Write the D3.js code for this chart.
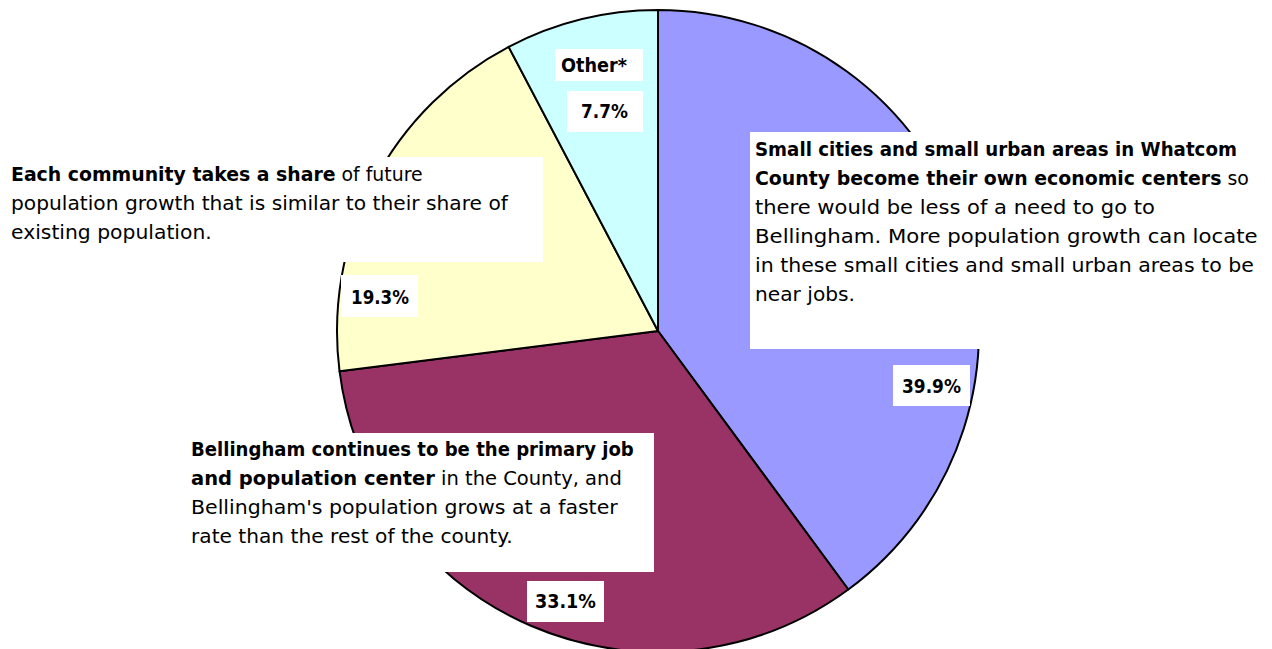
<!DOCTYPE html>
<html>
<head>
<meta charset="utf-8">
<script src="https://cdn.jsdelivr.net/npm/d3@7/dist/d3.min.js"></script>
<style>
  html, body { margin: 0; padding: 0; background: #fff; }
  svg { display: block; }
  text { white-space: pre; }
</style>
</head>
<body>
<svg id="chart" width="1272" height="649"></svg>
<script>
// ---- Data ----
const categories = ["Small cities", "Bellingham", "Each community", "Other*"];
const values = [39.9, 33.1, 19.3, 7.7];
const percentLabels = ["39.9%", "33.1%", "19.3%", "7.7%"];
const sliceColors = ["#9999FF", "#993366", "#FFFFCC", "#CCFFFF"];

const blueText = [
  [["Small cities and small urban areas in Whatcom", true]],
  [["County become their own economic centers", true], [" so", false]],
  [["there would be less of a need to go to", false]],
  [["Bellingham. More population growth can locate", false]],
  [["in these small cities and small urban areas to be", false]],
  [["near jobs.", false]]
];
const maroonText = [
  [["Bellingham continues to be the primary job", true]],
  [["and population center", true], [" in the County, and", false]],
  [["Bellingham's population grows at a faster", false]],
  [["rate than the rest of the county.", false]]
];
const yellowText = [
  [["Each community takes a share", true], [" of future", false]],
  [["population growth that is similar to their share of", false]],
  [["existing population.", false]]
];
const otherText = [[["Other*", true]]];

// ---- Layout (annotation boxes) ----
const FONT = "'DejaVu Sans', sans-serif";
const FS = 19;
const cx = 658, cy = 331, R = 321;

const boxes = [
  { box: [750, 132, 540, 217], x: 755, y: 156, lh: 29, lines: blueText, widths: [482, 494, 400, 503, 499, 100] },
  { box: [185, 433, 469, 139], x: 191, y: 456, lh: 29, lines: maroonText, widths: [443, 431, 427, 322] },
  { box: [0, 157, 543, 105], x: 11, y: 181, lh: 29, lines: yellowText, widths: [412, 497, 201] },
  { box: [555, 49, 88, 32], x: 561, y: 72, lh: 29, lines: otherText, widths: [66] }
];
const pctLayout = [
  { box: [893, 365, 77, 41], x: 902, y: 393, w: 59 },
  { box: [527, 581, 77, 41], x: 535, y: 608, w: 61 },
  { box: [341, 275, 77, 42], x: 351, y: 304, w: 58 },
  { box: [567, 91, 76, 41], x: 581, y: 118, w: 47 }
];

// ---- Draw ----
const svg = d3.select("#chart");

const pie = d3.pie().sort(null).value(d => d);
const arc = d3.arc().innerRadius(0).outerRadius(R);

svg.append("g")
  .attr("transform", `translate(${cx},${cy})`)
  .selectAll("path")
  .data(pie(values))
  .join("path")
  .attr("d", arc)
  .attr("fill", (d, i) => sliceColors[i])
  .attr("stroke", "#000")
  .attr("stroke-width", 2)
  .attr("stroke-linejoin", "round");

function fitText(sel, target) {
  const node = sel.node();
  const w = node.getComputedTextLength();
  return w > 0 ? target / w : 1;
}

const labels = svg.append("g");

boxes.forEach(b => {
  labels.append("rect")
    .attr("x", b.box[0]).attr("y", b.box[1])
    .attr("width", b.box[2]).attr("height", b.box[3])
    .attr("fill", "#fff");
  b.lines.forEach((segs, li) => {
    const t = labels.append("text")
      .attr("font-family", FONT)
      .attr("font-size", FS)
      .attr("fill", "#000");
    segs.forEach(s => {
      t.append("tspan")
        .attr("font-weight", s[1] ? "bold" : "normal")
        .text(s[0]);
    });
    const sx = fitText(t, b.widths[li]);
    t.attr("transform", `translate(${b.x},${b.y + li * b.lh}) scale(${sx},1)`);
  });
});

pctLayout.forEach((p, i) => {
  labels.append("rect")
    .attr("x", p.box[0]).attr("y", p.box[1])
    .attr("width", p.box[2]).attr("height", p.box[3])
    .attr("fill", "#fff");
  const t = labels.append("text")
    .attr("font-family", FONT)
    .attr("font-size", FS + 1)
    .attr("font-weight", "bold")
    .attr("fill", "#000")
    .text(percentLabels[i]);
  const sx = fitText(t, p.w);
  t.attr("transform", `translate(${p.x},${p.y}) scale(${sx},1)`);
});
</script>
</body>
</html>
